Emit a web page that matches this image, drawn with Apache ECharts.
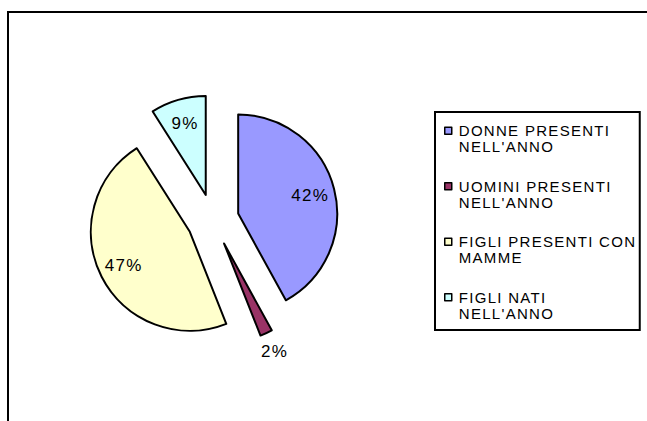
<!DOCTYPE html>
<html><head><meta charset="utf-8">
<script src="https://cdn.jsdelivr.net/npm/echarts@6/dist/echarts.min.js"></script>
<style>
html,body{margin:0;padding:0;background:#fff;}
#chart{width:647px;height:421px;}
#chart text{letter-spacing:1.3px;}
</style></head><body><div id="chart"></div>
<script>
// ---- data ----
const categories = ["DONNE PRESENTI NELL'ANNO", "UOMINI PRESENTI NELL'ANNO", "FIGLI PRESENTI CON MAMME", "FIGLI NATI NELL'ANNO"];
const values = [42, 2, 47, 9];

// ---- styles ----
const sliceColors = ['#9999FF', '#993366', '#FFFFCC', '#CCFFFF'];
const FONT = "'Liberation Sans', Arial, sans-serif";
const CENTER = [213, 220];
const R = 99;
const OFFSET = 26;
const WRAP_CHARS = 18;

const total = values.reduce((a, b) => a + b, 0);
const isSmall = values.map(v => v / total < 0.05);
const pctFmt = p => Math.round(p.percent) + '%';
function wrap(name) {
  const lines = []; let cur = '';
  name.split(' ').forEach(w => {
    if (cur && (cur + ' ' + w).length > WRAP_CHARS) { lines.push(cur); cur = w; }
    else cur = cur ? cur + ' ' + w : w;
  });
  if (cur) lines.push(cur);
  return lines.join('\n');
}

const labelStyle = { color: '#000', fontSize: 17, fontFamily: FONT };
const common = {
  type: 'pie', center: CENTER, startAngle: 90, clockwise: true,
  selectedMode: 'multiple', selectedOffset: OFFSET,
  avoidLabelOverlap: false, labelLine: { show: false },
  emphasis: { disabled: true }
};

const chart = echarts.init(document.getElementById('chart'), null, { renderer: 'svg' });
chart.setOption({
  animation: false,
  graphic: [{
    type: 'polyline', silent: true, z: -10,
    shape: { points: [[8, 440], [8, 12], [660, 12]] },
    style: { fill: 'none', stroke: '#000', lineWidth: 2 }
  }],
  legend: {
    orient: 'vertical', align: 'left',
    left: 435, top: 112,
    padding: [10, 23, 8, 9],
    borderColor: '#000', borderWidth: 2,
    itemGap: 22, itemWidth: 7, itemHeight: 32,
    icon: 'path://M0,4.5L7,4.5L7,11.5L0,11.5Z M0,0 M7,32',
    itemStyle: { borderColor: '#000', borderWidth: 1.5 },
    data: categories,
    formatter: wrap,
    textStyle: { color: '#000', fontSize: 15, lineHeight: 16, fontFamily: FONT, width: 158, padding: [0, 0, 0, 2] }
  },
  series: [
    Object.assign({}, common, {
      name: 'main', radius: [0, R],
      label: { show: false },
      data: categories.map((name, i) => ({
        name, value: values[i], selected: true,
        itemStyle: { color: sliceColors[i], borderColor: '#000', borderWidth: 2 }
      }))
    }),
    Object.assign({}, common, {
      name: 'inside labels', radius: [0.44 * R, R], silent: true,
      itemStyle: { color: 'rgba(0,0,0,0)', borderWidth: 0 },
      label: Object.assign({ position: 'inside', formatter: pctFmt }, labelStyle),
      data: categories.map((name, i) => ({
        name, value: values[i], selected: true, label: { show: !isSmall[i] }
      }))
    }),
    Object.assign({}, common, {
      name: 'outside labels', radius: [R, 1.34 * R], silent: true,
      itemStyle: { color: 'rgba(0,0,0,0)', borderWidth: 0 },
      label: Object.assign({ position: 'inside', formatter: pctFmt }, labelStyle),
      data: categories.map((name, i) => ({
        name, value: values[i], selected: true, label: { show: isSmall[i] }
      }))
    })
  ]
});
</script></body></html>
